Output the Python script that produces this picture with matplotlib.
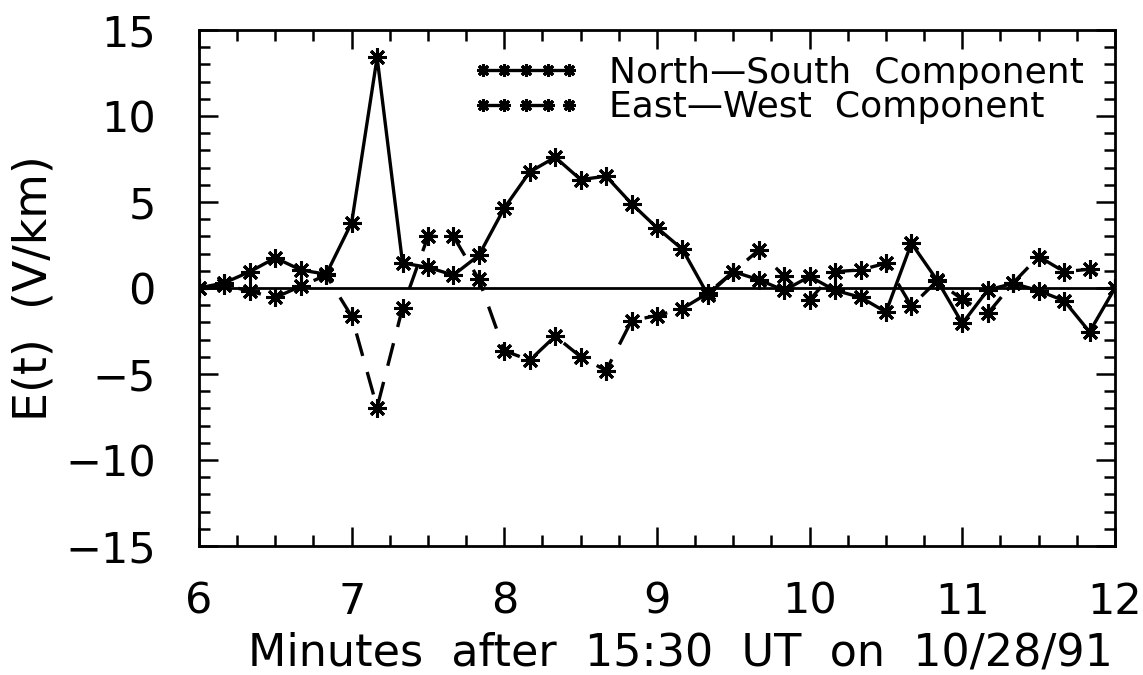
import numpy as np
import matplotlib
matplotlib.use("Agg")
import matplotlib.pyplot as plt
from matplotlib.ticker import MultipleLocator

# Sample times: every 10 s from 6 to 12 minutes after 15:30 UT
t_start, t_step, n_samples = 6.0, 1.0 / 6.0, 37
minutes = t_start + t_step * np.arange(n_samples)

north_south = [0.0, 0.3, 0.95, 1.75, 1.05, 0.8, 3.8, 13.4, 1.45, 1.2,
               0.75, 1.9, 4.65, 6.75, 7.6, 6.3, 6.5, 4.9, 3.5, 2.25,
               -0.4, 0.95, 0.48, -0.14, 0.67, -0.14, -0.54, -1.4, 2.6, 0.47,
               -2.06, -0.12, 0.27, -0.16, -0.74, -2.55, 0.0]

east_west = [0.0, 0.2, -0.2, -0.55, 0.1, 0.75, -1.65, -6.95, -1.15, 3.0,
             3.0, 0.5, -3.65, -4.2, -2.8, -4.0, -4.8, -1.9, -1.6, -1.2,
             -0.3, 0.95, 2.2, 0.67, -0.68, 0.95, 1.05, 1.44, -1.05, 0.4,
             -0.66, -1.48, 0.3, 1.83, 0.95, 1.09, 0.0]

series_labels = ["North\u2014South  Component", "East\u2014West  Component"]
x_ticks = [6, 7, 8, 9, 10, 11, 12]
y_ticks = [-15, -10, -5, 0, 5, 10, 15]
x_label = "Minutes  after  15:30  UT  on  10/28/91"
y_label = "E(t)  (V/km)"

plt.rcParams["font.family"] = ["DejaVu Sans"]
fs = 31
fs_legend = 26

fig = plt.figure(figsize=(11.43, 6.75), dpi=100)
ax = fig.add_axes([0.1741, 0.1911, 0.9755 - 0.1741, 0.9556 - 0.1911])

star = (8, 2, 0)
ax.plot(minutes, north_south, color="black", lw=2.4, marker=star,
        markersize=13, markeredgewidth=2.2, label=series_labels[0])
ax.plot(minutes, east_west, color="black", lw=2.4, dashes=(7, 5),
        marker=star, markersize=13, markeredgewidth=2.2,
        label=series_labels[1])
ax.axhline(0, color="black", lw=2.0, zorder=1)

ax.set_xlim(6, 12)
ax.set_ylim(-15, 15)
ax.set_xticks(x_ticks)
ax.set_yticks(y_ticks)
ax.set_yticklabels(["\u2212" + str(abs(v)) if v < 0 else str(v) for v in y_ticks])
ax.xaxis.set_minor_locator(MultipleLocator(0.25))
ax.yaxis.set_minor_locator(MultipleLocator(1))
ax.tick_params(which="both", direction="in", top=True, right=True,
               width=1.8, labelsize=fs, color="black")
ax.tick_params(which="major", length=14)
ax.tick_params(which="minor", length=8)
ax.tick_params(axis="x", which="major", pad=25)
ax.tick_params(axis="y", which="major", pad=31)
for s in ax.spines.values():
    s.set_linewidth(2.0)

ax.set_xlabel(x_label, fontsize=fs + 1, labelpad=0)
ax.xaxis.set_label_coords(0.526, -0.165)
ax.set_ylabel(y_label, fontsize=fs + 2, labelpad=6)

ax.legend(loc="upper left", bbox_to_anchor=(0.298, 0.95), frameon=False,
          fontsize=fs_legend, numpoints=5, markerscale=0.7,
          handlelength=3.0, handletextpad=0.8, labelspacing=0.02,
          borderaxespad=0.0, borderpad=0.0)

fig.savefig("out.png", dpi=100, facecolor="white")
